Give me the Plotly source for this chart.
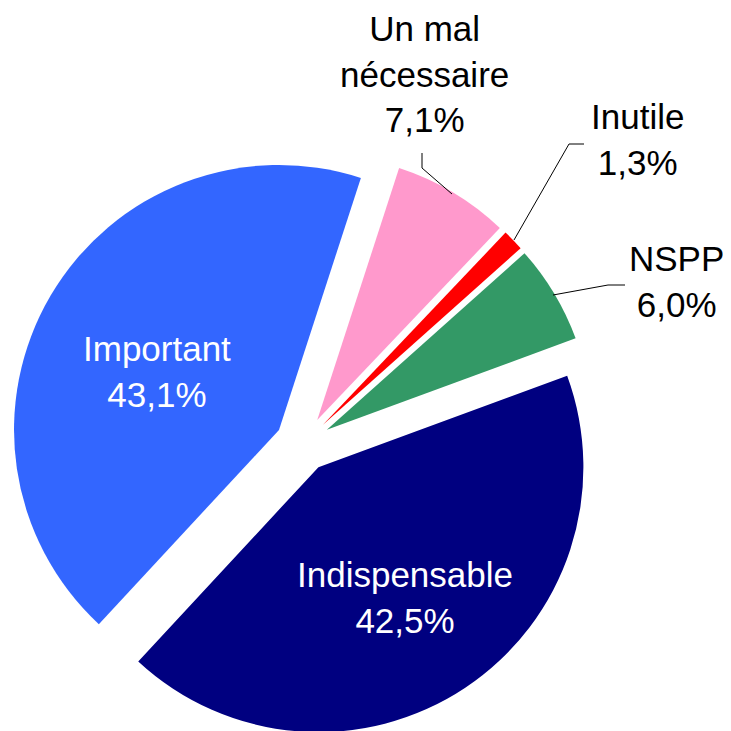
import plotly.graph_objects as go

W = H = 731
OFF = 8  # page body margin in the rendered page

labels = ["Un mal nécessaire", "Inutile", "NSPP", "Indispensable", "Important"]
values = [7.1, 1.3, 6.0, 42.5, 43.1]
colors = ["#FF99CC", "#FF0000", "#339966", "#000080", "#3366FF"]
label_text = ["Un mal<br>nécessaire", "Inutile", "NSPP", "Indispensable", "Important"]
text_colors = ["black", "black", "black", "white", "white"]

# label centres (px) and leader lines (px) for the small slices
label_pos = [(424, 74), (637, 140), (676, 281), (405, 597), (157, 371)]
leaders = [
    [(422, 153), (422, 168), (452, 194)],
    [(584, 144), (569, 144), (514, 240)],
    [(625, 285), (608, 285), (553, 295)],
    None,
    None,
]

FONT = "Liberation Sans, Arial, sans-serif"


def px(x, y):
    return (x - OFF) / W, 1 - (y - OFF) / H


fig = go.Figure(go.Pie(
    labels=labels,
    values=values,
    marker=dict(colors=colors, line=dict(width=0)),
    sort=False,
    direction="clockwise",
    rotation=18,
    pull=[0.105] * len(values),
    textinfo="none",
    hoverinfo="label+percent",
    showlegend=False,
    domain=dict(x=[0.003, 0.8041], y=[0.003, 0.8041]),
))

total = sum(values)
for lab, v, pos, col, lead in zip(label_text, values, label_pos, text_colors, leaders):
    pct = f"{100 * v / total:.1f}%".replace(".", ",")
    x, y = px(*pos)
    fig.add_annotation(
        x=x, y=y, xref="paper", yref="paper",
        text=f"{lab}<br>{pct}", showarrow=False,
        xanchor="center", yanchor="middle",
        font=dict(family=FONT, size=35, color=col),
    )
    if lead:
        pts = [px(a, b) for a, b in lead]
        path = "M " + " L ".join(f"{a},{b}" for a, b in pts)
        fig.add_shape(type="path", path=path, xref="paper", yref="paper",
                      line=dict(color="black", width=1))

fig.update_layout(
    width=W, height=H,
    margin=dict(l=0, r=0, t=0, b=0),
    paper_bgcolor="white",
    plot_bgcolor="white",
    font=dict(family=FONT),
)

fig.write_html("out.html")
